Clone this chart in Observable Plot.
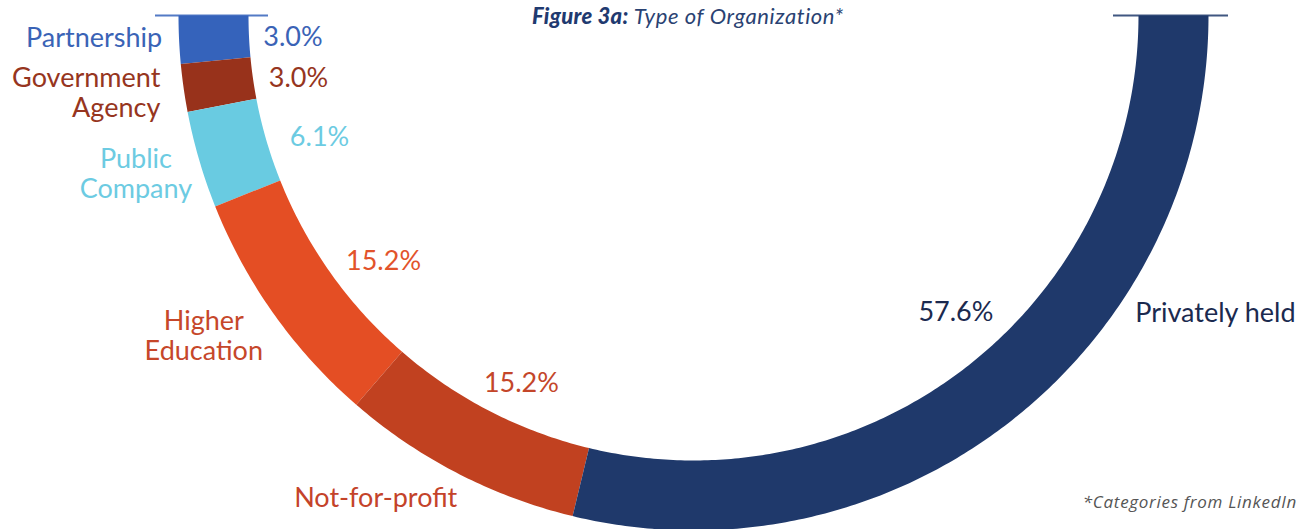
<!DOCTYPE html>
<html><head><meta charset="utf-8">
<script src="https://cdn.jsdelivr.net/npm/d3@7"></script>
<script src="https://cdn.jsdelivr.net/npm/@observablehq/plot@0.6"></script>
<style>
body{margin:0;background:#fff;}
#wrap{position:relative;width:1312px;height:529px;overflow:hidden;}
#chart{position:absolute;left:0;top:0;}
#title{position:absolute;left:532px;top:3px;font-family:Lato,sans-serif;font-style:italic;font-size:22px;line-height:26px;color:#2a4272;white-space:nowrap;font-weight:400;letter-spacing:0.6px;}
#title b{font-weight:900;color:#1f3a70;letter-spacing:0.3px;}
#caption{position:absolute;right:15px;top:490px;font-family:"Open Sans","Noto Sans",sans-serif;font-style:italic;font-size:17px;letter-spacing:0.7px;color:#555;white-space:nowrap;}
</style></head><body>
<div id="wrap">
<div id="chart"></div>
<div id="title"><b>Figure 3a:</b> Type of Organization*</div>
<div id="caption">*Categories from LinkedIn</div>
</div>
<script>
// ---- data ----
const categories = ["Partnership","Government Agency","Public Company","Higher Education","Not-for-profit","Privately held"];
const shares = [3.0, 3.0, 6.1, 15.2, 15.2, 57.6];
const valueLabels = ["3.0%","3.0%","6.1%","15.2%","15.2%","57.6%"];
const nameLabels = ["Partnership","Government\nAgency","Public\nCompany","Higher\nEducation","Not-for-profit","Privately held"];
// ---- styles ----
const sliceColors = ["#3563BB","#98321B","#69CBE1","#E44E24","#C14120","#1F396B"];
const nameColors  = ["#3A63B6","#963520","#6CCBE2","#C6472A","#C4432A","#1B2A4F"];
const valueColors = ["#3A63B6","#963520","#6CCBE2","#E2532B","#C4462A","#1B2A4F"];
// ---- layout ----
const W = 1312, H = 529, CX = 693, CY = 15, R_OUT = 515, R_IN = 445;
const R_NAME = 585, R_VALUE = 400;
const nameAnchor = ["end","end","middle","middle","middle","middle"];
const nameShift  = [[53,-6],[46,-5],[4,-6],[-13,-19],[-50,-38],[160,-163]];
const valueShift = [[-1,3],[1,7],[10,10],[16,14],[11,12],[15,-17]];

const total = d3.sum(shares);
const cum = d3.cumsum(shares);
const angleAt = v => Math.PI * (1 - v / total);

// ring polygons
const ring = [];
categories.forEach((c, i) => {
  const a0 = angleAt(i === 0 ? 0 : cum[i-1]);
  const a1 = angleAt(cum[i]);
  const n = Math.max(4, Math.ceil(Math.abs(a1 - a0) / (Math.PI/360)));
  for (let k = 0; k <= n; k++) {
    const a = a0 + (a1 - a0) * k / n;
    ring.push({cat: c, x: R_OUT*Math.cos(a), y: R_OUT*Math.sin(a)});
  }
  for (let k = n; k >= 0; k--) {
    const a = a0 + (a1 - a0) * k / n;
    ring.push({cat: c, x: R_IN*Math.cos(a), y: R_IN*Math.sin(a)});
  }
});

const labels = categories.map((c, i) => {
  const mid = angleAt((i === 0 ? 0 : cum[i-1]) + shares[i]/2);
  return {
    cat: c,
    name: nameLabels[i], value: valueLabels[i],
    anchor: nameAnchor[i],
    nx: R_NAME*Math.cos(mid) + nameShift[i][0], ny: R_NAME*Math.sin(mid) + nameShift[i][1],
    vx: R_VALUE*Math.cos(mid) + valueShift[i][0], vy: R_VALUE*Math.sin(mid) + valueShift[i][1],
    nc: nameColors[i], vc: valueColors[i]
  };
});

const chart = Plot.plot({
  width: W, height: H, margin: 0,
  style: {fontFamily: "Lato, sans-serif", background: "transparent"},
  x: {domain: [-CX, W - CX], range: [0, W], axis: null},
  y: {domain: [-CY, H - CY], range: [0, H], axis: null},
  color: {domain: categories, range: sliceColors},
  marks: [
    Plot.line(ring, {x: "x", y: "y", z: "cat", fill: "cat", stroke: "none", curve: "linear"}),
    Plot.ruleY([0], {x1: -(R_OUT + 23), x2: -(R_IN - 20), stroke: sliceColors[0], strokeWidth: 2, strokeOpacity: 0.85}),
    Plot.ruleY([0], {x1: R_IN - 25, x2: R_OUT + 20, stroke: sliceColors[5], strokeWidth: 2, strokeOpacity: 0.85}),
    Plot.text(labels.filter(d => d.anchor === "end"), {x: "nx", y: "ny", text: "name", fill: d => d.nc, textAnchor: "end", lineAnchor: "middle", lineHeight: 1.11, fontSize: 27}),
    Plot.text(labels.filter(d => d.anchor === "middle"), {x: "nx", y: "ny", text: "name", fill: d => d.nc, textAnchor: "middle", lineAnchor: "middle", lineHeight: 1.11, fontSize: 27}),
    Plot.text(labels, {x: "vx", y: "vy", text: "value", fill: d => d.vc, textAnchor: "middle", lineAnchor: "middle", fontSize: 27})
  ]
});
document.getElementById("chart").appendChild(chart);
</script>
</body></html>
